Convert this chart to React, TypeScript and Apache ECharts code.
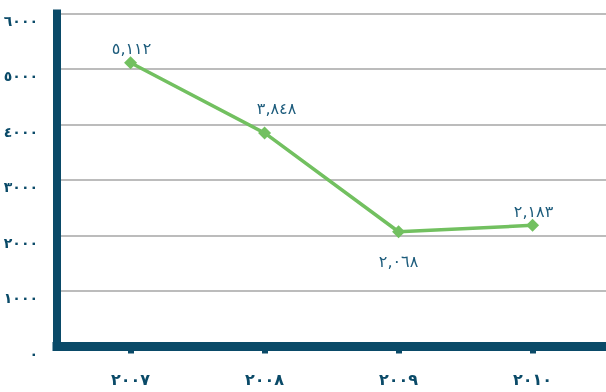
import React, { useEffect, useRef } from "react";
import * as echarts from "echarts";

const years = ["٢٠٠٧", "٢٠٠٨", "٢٠٠٩", "٢٠١٠"];
const values = [5112, 3848, 2068, 2183];
const dataLabels = ["٥,١١٢", "٣,٨٤٨", "٢,٠٦٨", "٢,١٨٣"];
const yTickLabels = ["٠", "١٠٠٠", "٢٠٠٠", "٣٠٠٠", "٤٠٠٠", "٥٠٠٠", "٦٠٠٠"];
const labelOffsets = [
  [1, -14],
  [12, -24],
  [0, 30],
  [1, -14],
];

const NAVY = "#0a4a68";
const LABEL = "#1d5c7c";
const GREEN = "#72c060";
const FONT = "DejaVu Sans";

export default function App() {
  const ref = useRef<HTMLDivElement>(null);
  useEffect(() => {
    if (!ref.current) return;
    const chart = echarts.init(ref.current, undefined, { renderer: "svg" });
    const idx = years.map((_, i) => i);
    chart.setOption({
      animation: false,
      grid: { left: 57, right: 0, top: 13.5, bottom: 45.5, containLabel: false },
      xAxis: {
        type: "value",
        min: -0.549,
        max: 3.548,
        splitLine: { show: false },
        axisLine: { show: true, onZero: false, lineStyle: { color: NAVY, width: 9, cap: "square" } },
        axisTick: { show: true, customValues: idx, length: 7, lineStyle: { color: NAVY, width: 6 } },
        axisLabel: {
          customValues: idx,
          formatter: (v: number) => years[Math.round(v)] ?? "",
          color: NAVY,
          fontFamily: FONT,
          fontWeight: "bold",
          fontSize: 16,
          margin: 25,
        },
      },
      yAxis: {
        type: "value",
        min: 0,
        max: 6000,
        interval: 1000,
        axisLine: { show: true, onZero: false, lineStyle: { color: NAVY, width: 8, cap: "square" } },
        axisTick: { show: false },
        splitLine: { show: true, lineStyle: { color: "#a6a6a6", width: 1.5 } },
        axisLabel: {
          formatter: (v: number) => yTickLabels[Math.round(v / 1000)] ?? "",
          color: NAVY,
          fontFamily: FONT,
          fontWeight: "bold",
          fontSize: 14,
          margin: 19,
          verticalAlign: "top",
        },
      },
      series: [
        {
          type: "line",
          data: values.map((v, i) => ({
            value: [i, v],
            label: {
              show: true,
              position: "inside",
              offset: labelOffsets[i],
              formatter: () => dataLabels[i],
            },
          })),
          symbol: "diamond",
          symbolSize: 13,
          showAllSymbol: true,
          lineStyle: { color: GREEN, width: 3.5 },
          itemStyle: { color: GREEN },
          label: {
            color: LABEL,
            fontFamily: FONT,
            fontSize: 16,
          },
          z: 5,
        },
      ],
    });
    return () => chart.dispose();
  }, []);
  return (
    <div
      ref={ref}
      style={{ position: "fixed", left: 0, top: 0, width: 606, height: 392 }}
    />
  );
}
